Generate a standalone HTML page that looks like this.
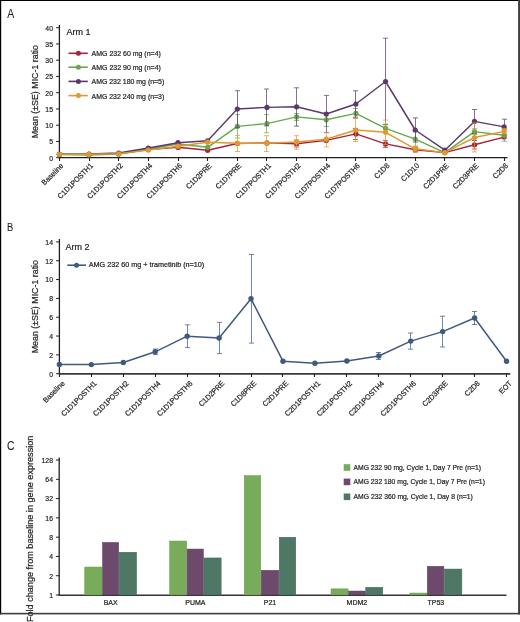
<!DOCTYPE html>
<html><head><meta charset="utf-8"><style>
html,body{margin:0;padding:0;background:#fff;width:520px;height:622px;overflow:hidden}
svg{display:block;will-change:transform}
text{font-family:"Liberation Sans", sans-serif;fill:#231f20;stroke:#231f20;stroke-width:0.22px}
</style></head><body>
<svg width="520" height="622" viewBox="0 0 520 622">
<text transform="translate(7.3,17.7) scale(0.83,1)" font-size="12.6" style="stroke-width:0.1px">A</text>
<text transform="translate(6.9,231.3) scale(0.9,1)" font-size="10.4" style="stroke-width:0.1px">B</text>
<text transform="translate(6.9,449.9) scale(0.83,1)" font-size="12.5" style="stroke-width:0.1px">C</text>
<line x1="59.4" y1="25" x2="59.4" y2="157.7" stroke="#231f20" stroke-width="1.3"/>
<line x1="58.75" y1="157.7" x2="507.5" y2="157.7" stroke="#231f20" stroke-width="1.3"/>
<line x1="56.1" y1="157.70" x2="59.4" y2="157.70" stroke="#231f20" stroke-width="1"/>
<text transform="translate(53,160.50) scale(0.87,1)" font-size="7.9" text-anchor="end">0</text>
<line x1="56.1" y1="141.45" x2="59.4" y2="141.45" stroke="#231f20" stroke-width="1"/>
<text transform="translate(53,144.25) scale(0.87,1)" font-size="7.9" text-anchor="end">5</text>
<line x1="56.1" y1="125.20" x2="59.4" y2="125.20" stroke="#231f20" stroke-width="1"/>
<text transform="translate(53,128.00) scale(0.87,1)" font-size="7.9" text-anchor="end">10</text>
<line x1="56.1" y1="108.95" x2="59.4" y2="108.95" stroke="#231f20" stroke-width="1"/>
<text transform="translate(53,111.75) scale(0.87,1)" font-size="7.9" text-anchor="end">15</text>
<line x1="56.1" y1="92.70" x2="59.4" y2="92.70" stroke="#231f20" stroke-width="1"/>
<text transform="translate(53,95.50) scale(0.87,1)" font-size="7.9" text-anchor="end">20</text>
<line x1="56.1" y1="76.45" x2="59.4" y2="76.45" stroke="#231f20" stroke-width="1"/>
<text transform="translate(53,79.25) scale(0.87,1)" font-size="7.9" text-anchor="end">25</text>
<line x1="56.1" y1="60.20" x2="59.4" y2="60.20" stroke="#231f20" stroke-width="1"/>
<text transform="translate(53,63.00) scale(0.87,1)" font-size="7.9" text-anchor="end">30</text>
<line x1="56.1" y1="43.95" x2="59.4" y2="43.95" stroke="#231f20" stroke-width="1"/>
<text transform="translate(53,46.75) scale(0.87,1)" font-size="7.9" text-anchor="end">35</text>
<line x1="56.1" y1="27.70" x2="59.4" y2="27.70" stroke="#231f20" stroke-width="1"/>
<text transform="translate(53,30.50) scale(0.87,1)" font-size="7.9" text-anchor="end">40</text>
<line x1="59.50" y1="157.7" x2="59.50" y2="161.0" stroke="#231f20" stroke-width="1.1"/>
<text transform="translate(63.90,166.29999999999998) rotate(-45) scale(0.95,1)" font-size="7.5" text-anchor="end">Baseline</text>
<line x1="89.50" y1="157.7" x2="89.50" y2="161.0" stroke="#231f20" stroke-width="1.1"/>
<text transform="translate(93.55,166.29999999999998) rotate(-45) scale(0.95,1)" font-size="7.5" text-anchor="end">C1D1POSTH1</text>
<line x1="118.50" y1="157.7" x2="118.50" y2="161.0" stroke="#231f20" stroke-width="1.1"/>
<text transform="translate(123.20,166.29999999999998) rotate(-45) scale(0.95,1)" font-size="7.5" text-anchor="end">C1D1POSTH2</text>
<line x1="148.50" y1="157.7" x2="148.50" y2="161.0" stroke="#231f20" stroke-width="1.1"/>
<text transform="translate(152.85,166.29999999999998) rotate(-45) scale(0.95,1)" font-size="7.5" text-anchor="end">C1D1POSTH4</text>
<line x1="178.50" y1="157.7" x2="178.50" y2="161.0" stroke="#231f20" stroke-width="1.1"/>
<text transform="translate(182.50,166.29999999999998) rotate(-45) scale(0.95,1)" font-size="7.5" text-anchor="end">C1D1POSTH6</text>
<line x1="207.50" y1="157.7" x2="207.50" y2="161.0" stroke="#231f20" stroke-width="1.1"/>
<text transform="translate(212.15,166.29999999999998) rotate(-45) scale(0.95,1)" font-size="7.5" text-anchor="end">C1D2PRE</text>
<line x1="237.50" y1="157.7" x2="237.50" y2="161.0" stroke="#231f20" stroke-width="1.1"/>
<text transform="translate(241.80,166.29999999999998) rotate(-45) scale(0.95,1)" font-size="7.5" text-anchor="end">C1D7PRE</text>
<line x1="266.50" y1="157.7" x2="266.50" y2="161.0" stroke="#231f20" stroke-width="1.1"/>
<text transform="translate(271.45,166.29999999999998) rotate(-45) scale(0.95,1)" font-size="7.5" text-anchor="end">C1D7POSTH1</text>
<line x1="296.50" y1="157.7" x2="296.50" y2="161.0" stroke="#231f20" stroke-width="1.1"/>
<text transform="translate(301.10,166.29999999999998) rotate(-45) scale(0.95,1)" font-size="7.5" text-anchor="end">C1D7POSTH2</text>
<line x1="326.50" y1="157.7" x2="326.50" y2="161.0" stroke="#231f20" stroke-width="1.1"/>
<text transform="translate(330.75,166.29999999999998) rotate(-45) scale(0.95,1)" font-size="7.5" text-anchor="end">C1D7POSTH4</text>
<line x1="355.50" y1="157.7" x2="355.50" y2="161.0" stroke="#231f20" stroke-width="1.1"/>
<text transform="translate(360.40,166.29999999999998) rotate(-45) scale(0.95,1)" font-size="7.5" text-anchor="end">C1D7POSTH6</text>
<line x1="385.50" y1="157.7" x2="385.50" y2="161.0" stroke="#231f20" stroke-width="1.1"/>
<text transform="translate(390.05,166.29999999999998) rotate(-45) scale(0.95,1)" font-size="7.5" text-anchor="end">C1D8</text>
<line x1="415.50" y1="157.7" x2="415.50" y2="161.0" stroke="#231f20" stroke-width="1.1"/>
<text transform="translate(419.70,166.29999999999998) rotate(-45) scale(0.95,1)" font-size="7.5" text-anchor="end">C1D10</text>
<line x1="444.50" y1="157.7" x2="444.50" y2="161.0" stroke="#231f20" stroke-width="1.1"/>
<text transform="translate(449.35,166.29999999999998) rotate(-45) scale(0.95,1)" font-size="7.5" text-anchor="end">C2D1PRE</text>
<line x1="474.50" y1="157.7" x2="474.50" y2="161.0" stroke="#231f20" stroke-width="1.1"/>
<text transform="translate(479.00,166.29999999999998) rotate(-45) scale(0.95,1)" font-size="7.5" text-anchor="end">C2D3PRE</text>
<line x1="504.50" y1="157.7" x2="504.50" y2="161.0" stroke="#231f20" stroke-width="1.1"/>
<text transform="translate(508.65,166.29999999999998) rotate(-45) scale(0.95,1)" font-size="7.5" text-anchor="end">C2D8</text>
<text transform="translate(38.1,138.3) rotate(-90)" font-size="9.4" textLength="93.3" lengthAdjust="spacingAndGlyphs">Mean (±SE) MIC-1 ratio</text>
<text x="66.5" y="34.8" font-size="9">Arm 1</text>
<line x1="68.5" y1="53.3" x2="87.8" y2="53.3" stroke="#a2263c" stroke-width="1.6"/>
<circle cx="78.4" cy="53.3" r="2.5" fill="#a2263c"/>
<text x="91.5" y="56.20" font-size="7.6" textLength="69.4" lengthAdjust="spacingAndGlyphs">AMG 232 60 mg (n=4)</text>
<line x1="68.5" y1="67.2" x2="87.8" y2="67.2" stroke="#6aa84f" stroke-width="1.6"/>
<circle cx="78.4" cy="67.2" r="2.5" fill="#6aa84f"/>
<text x="91.5" y="70.10" font-size="7.6" textLength="69.4" lengthAdjust="spacingAndGlyphs">AMG 232 90 mg (n=4)</text>
<line x1="68.5" y1="81.4" x2="87.8" y2="81.4" stroke="#5b3a6b" stroke-width="1.6"/>
<circle cx="78.4" cy="81.4" r="2.5" fill="#5b3a6b"/>
<text x="91.5" y="84.30" font-size="7.6" textLength="72.8" lengthAdjust="spacingAndGlyphs">AMG 232 180 mg (n=5)</text>
<line x1="68.5" y1="95.6" x2="87.8" y2="95.6" stroke="#e0982f" stroke-width="1.6"/>
<circle cx="78.4" cy="95.6" r="2.5" fill="#e0982f"/>
<text x="91.5" y="98.50" font-size="7.6" textLength="72.8" lengthAdjust="spacingAndGlyphs">AMG 232 240 mg (n=3)</text>
<path d="M178.50 145.5V149M175.90 145.5H181.10M175.90 149H181.10" stroke="#a2263c" stroke-width="1.0" fill="none" opacity="0.72"/>
<path d="M296.50 140V147M293.90 140H299.10M293.90 147H299.10" stroke="#a2263c" stroke-width="1.0" fill="none" opacity="0.72"/>
<path d="M355.50 128.5V139.5M352.90 128.5H358.10M352.90 139.5H358.10" stroke="#a2263c" stroke-width="1.0" fill="none" opacity="0.72"/>
<path d="M385.50 140.4V147.4M382.90 140.4H388.10M382.90 147.4H388.10" stroke="#a2263c" stroke-width="1.0" fill="none" opacity="0.72"/>
<path d="M415.50 147.5V152M412.90 147.5H418.10M412.90 152H418.10" stroke="#a2263c" stroke-width="1.0" fill="none" opacity="0.72"/>
<path d="M474.50 140.5V149M471.90 140.5H477.10M471.90 149H477.10" stroke="#a2263c" stroke-width="1.0" fill="none" opacity="0.72"/>
<polyline points="59.40,154.30 89.05,154.30 118.70,153.80 148.35,149.50 178.00,147.30 207.65,150.30 237.30,143.50 266.95,142.90 296.60,143.70 326.25,140.40 355.90,133.90 385.55,143.90 415.20,149.70 444.85,152.60 474.50,144.80 504.15,137.10" fill="none" stroke="#a2263c" stroke-width="1.45" stroke-linejoin="round"/>
<circle cx="59.40" cy="154.3" r="2.6" fill="#a2263c"/>
<circle cx="89.05" cy="154.3" r="2.6" fill="#a2263c"/>
<circle cx="118.70" cy="153.8" r="2.6" fill="#a2263c"/>
<circle cx="148.35" cy="149.5" r="2.6" fill="#a2263c"/>
<circle cx="178.00" cy="147.3" r="2.6" fill="#a2263c"/>
<circle cx="207.65" cy="150.3" r="2.6" fill="#a2263c"/>
<circle cx="237.30" cy="143.5" r="2.6" fill="#a2263c"/>
<circle cx="266.95" cy="142.9" r="2.6" fill="#a2263c"/>
<circle cx="296.60" cy="143.7" r="2.6" fill="#a2263c"/>
<circle cx="326.25" cy="140.4" r="2.6" fill="#a2263c"/>
<circle cx="355.90" cy="133.9" r="2.6" fill="#a2263c"/>
<circle cx="385.55" cy="143.9" r="2.6" fill="#a2263c"/>
<circle cx="415.20" cy="149.7" r="2.6" fill="#a2263c"/>
<circle cx="444.85" cy="152.6" r="2.6" fill="#a2263c"/>
<circle cx="474.50" cy="144.8" r="2.6" fill="#a2263c"/>
<circle cx="504.15" cy="137.1" r="2.6" fill="#a2263c"/>
<path d="M237.50 114.6V138M234.90 114.6H240.10M234.90 138H240.10" stroke="#6aa84f" stroke-width="1.0" fill="none" opacity="0.72"/>
<path d="M266.50 114.6V132.8M263.90 114.6H269.10M263.90 132.8H269.10" stroke="#6aa84f" stroke-width="1.0" fill="none" opacity="0.72"/>
<path d="M296.50 113.5V120.5M293.90 113.5H299.10M293.90 120.5H299.10" stroke="#6aa84f" stroke-width="1.0" fill="none" opacity="0.72"/>
<path d="M326.50 113V126.5M323.90 113H329.10M323.90 126.5H329.10" stroke="#6aa84f" stroke-width="1.0" fill="none" opacity="0.72"/>
<path d="M355.50 108.5V118.3M352.90 108.5H358.10M352.90 118.3H358.10" stroke="#6aa84f" stroke-width="1.0" fill="none" opacity="0.72"/>
<path d="M385.50 124.2V132.6M382.90 124.2H388.10M382.90 132.6H388.10" stroke="#6aa84f" stroke-width="1.0" fill="none" opacity="0.72"/>
<path d="M415.50 131.5V146.7M412.90 131.5H418.10M412.90 146.7H418.10" stroke="#6aa84f" stroke-width="1.0" fill="none" opacity="0.72"/>
<path d="M474.50 128.7V134.5M471.90 128.7H477.10M471.90 134.5H477.10" stroke="#6aa84f" stroke-width="1.0" fill="none" opacity="0.72"/>
<path d="M504.50 129.5V141.3M501.90 129.5H507.10M501.90 141.3H507.10" stroke="#6aa84f" stroke-width="1.0" fill="none" opacity="0.72"/>
<polyline points="59.40,154.50 89.05,155.00 118.70,154.00 148.35,149.00 178.00,144.00 207.65,147.30 237.30,126.40 266.95,123.60 296.60,116.90 326.25,119.80 355.90,113.40 385.55,128.40 415.20,139.10 444.85,152.60 474.50,131.60 504.15,135.30" fill="none" stroke="#6aa84f" stroke-width="1.45" stroke-linejoin="round"/>
<circle cx="59.40" cy="154.5" r="2.6" fill="#6aa84f"/>
<circle cx="89.05" cy="155" r="2.6" fill="#6aa84f"/>
<circle cx="118.70" cy="154" r="2.6" fill="#6aa84f"/>
<circle cx="148.35" cy="149" r="2.6" fill="#6aa84f"/>
<circle cx="178.00" cy="144" r="2.6" fill="#6aa84f"/>
<circle cx="207.65" cy="147.3" r="2.6" fill="#6aa84f"/>
<circle cx="237.30" cy="126.4" r="2.6" fill="#6aa84f"/>
<circle cx="266.95" cy="123.6" r="2.6" fill="#6aa84f"/>
<circle cx="296.60" cy="116.9" r="2.6" fill="#6aa84f"/>
<circle cx="326.25" cy="119.8" r="2.6" fill="#6aa84f"/>
<circle cx="355.90" cy="113.4" r="2.6" fill="#6aa84f"/>
<circle cx="385.55" cy="128.4" r="2.6" fill="#6aa84f"/>
<circle cx="415.20" cy="139.1" r="2.6" fill="#6aa84f"/>
<circle cx="444.85" cy="152.6" r="2.6" fill="#6aa84f"/>
<circle cx="474.50" cy="131.6" r="2.6" fill="#6aa84f"/>
<circle cx="504.15" cy="135.3" r="2.6" fill="#6aa84f"/>
<path d="M237.50 90.7V127.3M234.90 90.7H240.10M234.90 127.3H240.10" stroke="#5b3a6b" stroke-width="1.0" fill="none" opacity="0.72"/>
<path d="M266.50 89V125.8M263.90 89H269.10M263.90 125.8H269.10" stroke="#5b3a6b" stroke-width="1.0" fill="none" opacity="0.72"/>
<path d="M296.50 87.8V126.2M293.90 87.8H299.10M293.90 126.2H299.10" stroke="#5b3a6b" stroke-width="1.0" fill="none" opacity="0.72"/>
<path d="M326.50 95.4V132.6M323.90 95.4H329.10M323.90 132.6H329.10" stroke="#5b3a6b" stroke-width="1.0" fill="none" opacity="0.72"/>
<path d="M355.50 90.8V117.2M352.90 90.8H358.10M352.90 117.2H358.10" stroke="#5b3a6b" stroke-width="1.0" fill="none" opacity="0.72"/>
<path d="M385.50 38.2V124.8M382.90 38.2H388.10M382.90 124.8H388.10" stroke="#5b3a6b" stroke-width="1.0" fill="none" opacity="0.72"/>
<path d="M415.50 117.9V142.1M412.90 117.9H418.10M412.90 142.1H418.10" stroke="#5b3a6b" stroke-width="1.0" fill="none" opacity="0.72"/>
<path d="M474.50 109.5V133.3M471.90 109.5H477.10M471.90 133.3H477.10" stroke="#5b3a6b" stroke-width="1.0" fill="none" opacity="0.72"/>
<path d="M504.50 119.2V134.6M501.90 119.2H507.10M501.90 134.6H507.10" stroke="#5b3a6b" stroke-width="1.0" fill="none" opacity="0.72"/>
<polyline points="59.40,154.30 89.05,154.00 118.70,153.00 148.35,148.00 178.00,142.70 207.65,140.80 237.30,109.00 266.95,107.40 296.60,106.80 326.25,114.00 355.90,104.00 385.55,81.50 415.20,130.00 444.85,150.20 474.50,121.40 504.15,126.90" fill="none" stroke="#5b3a6b" stroke-width="1.45" stroke-linejoin="round"/>
<circle cx="59.40" cy="154.3" r="2.6" fill="#5b3a6b"/>
<circle cx="89.05" cy="154" r="2.6" fill="#5b3a6b"/>
<circle cx="118.70" cy="153" r="2.6" fill="#5b3a6b"/>
<circle cx="148.35" cy="148" r="2.6" fill="#5b3a6b"/>
<circle cx="178.00" cy="142.7" r="2.6" fill="#5b3a6b"/>
<circle cx="207.65" cy="140.8" r="2.6" fill="#5b3a6b"/>
<circle cx="237.30" cy="109" r="2.6" fill="#5b3a6b"/>
<circle cx="266.95" cy="107.4" r="2.6" fill="#5b3a6b"/>
<circle cx="296.60" cy="106.8" r="2.6" fill="#5b3a6b"/>
<circle cx="326.25" cy="114" r="2.6" fill="#5b3a6b"/>
<circle cx="355.90" cy="104" r="2.6" fill="#5b3a6b"/>
<circle cx="385.55" cy="81.5" r="2.6" fill="#5b3a6b"/>
<circle cx="415.20" cy="130" r="2.6" fill="#5b3a6b"/>
<circle cx="444.85" cy="150.2" r="2.6" fill="#5b3a6b"/>
<circle cx="474.50" cy="121.4" r="2.6" fill="#5b3a6b"/>
<circle cx="504.15" cy="126.9" r="2.6" fill="#5b3a6b"/>
<path d="M237.50 135.4V151.5M234.90 135.4H240.10M234.90 151.5H240.10" stroke="#e0982f" stroke-width="1.0" fill="none" opacity="0.72"/>
<path d="M266.50 135.7V151.5M263.90 135.7H269.10M263.90 151.5H269.10" stroke="#e0982f" stroke-width="1.0" fill="none" opacity="0.72"/>
<path d="M296.50 135.7V149.2M293.90 135.7H299.10M293.90 149.2H299.10" stroke="#e0982f" stroke-width="1.0" fill="none" opacity="0.72"/>
<path d="M326.50 132.3V146.9M323.90 132.3H329.10M323.90 146.9H329.10" stroke="#e0982f" stroke-width="1.0" fill="none" opacity="0.72"/>
<path d="M355.50 118.5V141.5M352.90 118.5H358.10M352.90 141.5H358.10" stroke="#e0982f" stroke-width="1.0" fill="none" opacity="0.72"/>
<path d="M385.50 120.1V144.5M382.90 120.1H388.10M382.90 144.5H388.10" stroke="#e0982f" stroke-width="1.0" fill="none" opacity="0.72"/>
<path d="M415.50 146V151.6M412.90 146H418.10M412.90 151.6H418.10" stroke="#e0982f" stroke-width="1.0" fill="none" opacity="0.72"/>
<path d="M474.50 123V151.9M471.90 123H477.10M471.90 151.9H477.10" stroke="#e0982f" stroke-width="1.0" fill="none" opacity="0.72"/>
<path d="M504.50 128.5V134.3M501.90 128.5H507.10M501.90 134.3H507.10" stroke="#e0982f" stroke-width="1.0" fill="none" opacity="0.72"/>
<polyline points="59.40,154.30 89.05,154.30 118.70,153.80 148.35,150.10 178.00,146.20 207.65,142.20 237.30,143.20 266.95,143.30 296.60,142.00 326.25,139.20 355.90,130.00 385.55,132.30 415.20,148.80 444.85,152.60 474.50,137.50 504.15,131.40" fill="none" stroke="#e0982f" stroke-width="1.45" stroke-linejoin="round"/>
<circle cx="59.40" cy="154.3" r="2.6" fill="#e0982f"/>
<circle cx="89.05" cy="154.3" r="2.6" fill="#e0982f"/>
<circle cx="118.70" cy="153.8" r="2.6" fill="#e0982f"/>
<circle cx="148.35" cy="150.1" r="2.6" fill="#e0982f"/>
<circle cx="178.00" cy="146.2" r="2.6" fill="#e0982f"/>
<circle cx="207.65" cy="142.2" r="2.6" fill="#e0982f"/>
<circle cx="237.30" cy="143.2" r="2.6" fill="#e0982f"/>
<circle cx="266.95" cy="143.3" r="2.6" fill="#e0982f"/>
<circle cx="296.60" cy="142" r="2.6" fill="#e0982f"/>
<circle cx="326.25" cy="139.2" r="2.6" fill="#e0982f"/>
<circle cx="355.90" cy="130" r="2.6" fill="#e0982f"/>
<circle cx="385.55" cy="132.3" r="2.6" fill="#e0982f"/>
<circle cx="415.20" cy="148.8" r="2.6" fill="#e0982f"/>
<circle cx="444.85" cy="152.6" r="2.6" fill="#e0982f"/>
<circle cx="474.50" cy="137.5" r="2.6" fill="#e0982f"/>
<circle cx="504.15" cy="131.4" r="2.6" fill="#e0982f"/>
<line x1="59.4" y1="239" x2="59.4" y2="373.7" stroke="#231f20" stroke-width="1.3"/>
<line x1="58.75" y1="373.9" x2="510.3" y2="373.9" stroke="#3a3a3a" stroke-width="1.6"/>
<line x1="56.1" y1="373.70" x2="59.4" y2="373.70" stroke="#231f20" stroke-width="1"/>
<text transform="translate(53,376.50) scale(0.87,1)" font-size="7.9" text-anchor="end">0</text>
<line x1="56.1" y1="354.87" x2="59.4" y2="354.87" stroke="#231f20" stroke-width="1"/>
<text transform="translate(53,357.67) scale(0.87,1)" font-size="7.9" text-anchor="end">2</text>
<line x1="56.1" y1="336.04" x2="59.4" y2="336.04" stroke="#231f20" stroke-width="1"/>
<text transform="translate(53,338.84) scale(0.87,1)" font-size="7.9" text-anchor="end">4</text>
<line x1="56.1" y1="317.22" x2="59.4" y2="317.22" stroke="#231f20" stroke-width="1"/>
<text transform="translate(53,320.02) scale(0.87,1)" font-size="7.9" text-anchor="end">6</text>
<line x1="56.1" y1="298.39" x2="59.4" y2="298.39" stroke="#231f20" stroke-width="1"/>
<text transform="translate(53,301.19) scale(0.87,1)" font-size="7.9" text-anchor="end">8</text>
<line x1="56.1" y1="279.56" x2="59.4" y2="279.56" stroke="#231f20" stroke-width="1"/>
<text transform="translate(53,282.36) scale(0.87,1)" font-size="7.9" text-anchor="end">10</text>
<line x1="56.1" y1="260.73" x2="59.4" y2="260.73" stroke="#231f20" stroke-width="1"/>
<text transform="translate(53,263.53) scale(0.87,1)" font-size="7.9" text-anchor="end">12</text>
<line x1="56.1" y1="241.90" x2="59.4" y2="241.90" stroke="#231f20" stroke-width="1"/>
<text transform="translate(53,244.70) scale(0.87,1)" font-size="7.9" text-anchor="end">14</text>
<line x1="59.50" y1="373.7" x2="59.50" y2="377.0" stroke="#231f20" stroke-width="1.1"/>
<text transform="translate(65.20,383.9) rotate(-45) scale(0.95,1)" font-size="7.5" text-anchor="end">Baseline</text>
<line x1="91.50" y1="373.7" x2="91.50" y2="377.0" stroke="#231f20" stroke-width="1.1"/>
<text transform="translate(97.14,383.9) rotate(-45) scale(0.95,1)" font-size="7.5" text-anchor="end">C1D1POSTH1</text>
<line x1="123.50" y1="373.7" x2="123.50" y2="377.0" stroke="#231f20" stroke-width="1.1"/>
<text transform="translate(129.08,383.9) rotate(-45) scale(0.95,1)" font-size="7.5" text-anchor="end">C1D1POSTH2</text>
<line x1="155.50" y1="373.7" x2="155.50" y2="377.0" stroke="#231f20" stroke-width="1.1"/>
<text transform="translate(161.02,383.9) rotate(-45) scale(0.95,1)" font-size="7.5" text-anchor="end">C1D1POSTH4</text>
<line x1="187.50" y1="373.7" x2="187.50" y2="377.0" stroke="#231f20" stroke-width="1.1"/>
<text transform="translate(192.96,383.9) rotate(-45) scale(0.95,1)" font-size="7.5" text-anchor="end">C1D1POSTH6</text>
<line x1="219.50" y1="373.7" x2="219.50" y2="377.0" stroke="#231f20" stroke-width="1.1"/>
<text transform="translate(224.90,383.9) rotate(-45) scale(0.95,1)" font-size="7.5" text-anchor="end">C1D2PRE</text>
<line x1="251.50" y1="373.7" x2="251.50" y2="377.0" stroke="#231f20" stroke-width="1.1"/>
<text transform="translate(256.84,383.9) rotate(-45) scale(0.95,1)" font-size="7.5" text-anchor="end">C1D8PRE</text>
<line x1="282.50" y1="373.7" x2="282.50" y2="377.0" stroke="#231f20" stroke-width="1.1"/>
<text transform="translate(288.78,383.9) rotate(-45) scale(0.95,1)" font-size="7.5" text-anchor="end">C2D1PRE</text>
<line x1="314.50" y1="373.7" x2="314.50" y2="377.0" stroke="#231f20" stroke-width="1.1"/>
<text transform="translate(320.72,383.9) rotate(-45) scale(0.95,1)" font-size="7.5" text-anchor="end">C2D1POSTH1</text>
<line x1="346.50" y1="373.7" x2="346.50" y2="377.0" stroke="#231f20" stroke-width="1.1"/>
<text transform="translate(352.66,383.9) rotate(-45) scale(0.95,1)" font-size="7.5" text-anchor="end">C2D1POSTH2</text>
<line x1="378.50" y1="373.7" x2="378.50" y2="377.0" stroke="#231f20" stroke-width="1.1"/>
<text transform="translate(384.60,383.9) rotate(-45) scale(0.95,1)" font-size="7.5" text-anchor="end">C2D1POSTH4</text>
<line x1="410.50" y1="373.7" x2="410.50" y2="377.0" stroke="#231f20" stroke-width="1.1"/>
<text transform="translate(416.54,383.9) rotate(-45) scale(0.95,1)" font-size="7.5" text-anchor="end">C2D1POSTH6</text>
<line x1="442.50" y1="373.7" x2="442.50" y2="377.0" stroke="#231f20" stroke-width="1.1"/>
<text transform="translate(448.48,383.9) rotate(-45) scale(0.95,1)" font-size="7.5" text-anchor="end">C2D3PRE</text>
<line x1="474.50" y1="373.7" x2="474.50" y2="377.0" stroke="#231f20" stroke-width="1.1"/>
<text transform="translate(480.42,383.9) rotate(-45) scale(0.95,1)" font-size="7.5" text-anchor="end">C2D8</text>
<line x1="506.50" y1="373.7" x2="506.50" y2="377.0" stroke="#231f20" stroke-width="1.1"/>
<text transform="translate(512.36,383.9) rotate(-45) scale(0.95,1)" font-size="7.5" text-anchor="end">EOT</text>
<text transform="translate(38.1,353.3) rotate(-90)" font-size="9.4" textLength="93.3" lengthAdjust="spacingAndGlyphs">Mean (±SE) MIC-1 ratio</text>
<text x="65.4" y="249.8" font-size="9">Arm 2</text>
<line x1="67.3" y1="265.2" x2="86" y2="265.2" stroke="#3f5a80" stroke-width="1.6"/>
<circle cx="76.5" cy="265.2" r="2.5" fill="#3f5a80"/>
<text x="88.8" y="266.9" font-size="7.2" textLength="115.4" lengthAdjust="spacingAndGlyphs">AMG 232 60 mg + trametinib (n=10)</text>
<path d="M155.50 349V354.6M152.90 349H158.10M152.90 354.6H158.10" stroke="#3f5a80" stroke-width="1.0" fill="none" opacity="0.72"/>
<path d="M187.50 324.8V347.6M184.90 324.8H190.10M184.90 347.6H190.10" stroke="#3f5a80" stroke-width="1.0" fill="none" opacity="0.72"/>
<path d="M219.50 322.4V353.6M216.90 322.4H222.10M216.90 353.6H222.10" stroke="#3f5a80" stroke-width="1.0" fill="none" opacity="0.72"/>
<path d="M251.50 254.5V343.1M248.90 254.5H254.10M248.90 343.1H254.10" stroke="#3f5a80" stroke-width="1.0" fill="none" opacity="0.72"/>
<path d="M378.50 352.5V359.5M375.90 352.5H381.10M375.90 359.5H381.10" stroke="#3f5a80" stroke-width="1.0" fill="none" opacity="0.72"/>
<path d="M410.50 333V349.2M407.90 333H413.10M407.90 349.2H413.10" stroke="#3f5a80" stroke-width="1.0" fill="none" opacity="0.72"/>
<path d="M442.50 316.2V347M439.90 316.2H445.10M439.90 347H445.10" stroke="#3f5a80" stroke-width="1.0" fill="none" opacity="0.72"/>
<path d="M474.50 311.5V324.5M471.90 311.5H477.10M471.90 324.5H477.10" stroke="#3f5a80" stroke-width="1.0" fill="none" opacity="0.72"/>
<polyline points="59.40,364.40 91.34,364.60 123.28,362.50 155.22,351.80 187.16,336.20 219.10,338.00 251.04,298.80 282.98,361.20 314.92,363.20 346.86,361.00 378.80,356.00 410.74,341.10 442.68,331.60 474.62,318.00 506.56,361.20" fill="none" stroke="#3f5a80" stroke-width="1.5" stroke-linejoin="round"/>
<circle cx="59.40" cy="364.4" r="2.7" fill="#3f5a80"/>
<circle cx="91.34" cy="364.6" r="2.7" fill="#3f5a80"/>
<circle cx="123.28" cy="362.5" r="2.7" fill="#3f5a80"/>
<circle cx="155.22" cy="351.8" r="2.7" fill="#3f5a80"/>
<circle cx="187.16" cy="336.2" r="2.7" fill="#3f5a80"/>
<circle cx="219.10" cy="338" r="2.7" fill="#3f5a80"/>
<circle cx="251.04" cy="298.8" r="2.7" fill="#3f5a80"/>
<circle cx="282.98" cy="361.2" r="2.7" fill="#3f5a80"/>
<circle cx="314.92" cy="363.2" r="2.7" fill="#3f5a80"/>
<circle cx="346.86" cy="361" r="2.7" fill="#3f5a80"/>
<circle cx="378.80" cy="356" r="2.7" fill="#3f5a80"/>
<circle cx="410.74" cy="341.1" r="2.7" fill="#3f5a80"/>
<circle cx="442.68" cy="331.6" r="2.7" fill="#3f5a80"/>
<circle cx="474.62" cy="318" r="2.7" fill="#3f5a80"/>
<circle cx="506.56" cy="361.2" r="2.7" fill="#3f5a80"/>
<line x1="59.2" y1="457.5" x2="59.2" y2="595.0" stroke="#231f20" stroke-width="1.3"/>
<line x1="58.550000000000004" y1="595.2" x2="506.5" y2="595.2" stroke="#333" stroke-width="1.6"/>
<line x1="55.900000000000006" y1="595.00" x2="59.2" y2="595.00" stroke="#231f20" stroke-width="1"/>
<text transform="translate(53,597.80) scale(0.87,1)" font-size="7.9" text-anchor="end">1</text>
<line x1="55.900000000000006" y1="575.72" x2="59.2" y2="575.72" stroke="#231f20" stroke-width="1"/>
<text transform="translate(53,578.52) scale(0.87,1)" font-size="7.9" text-anchor="end">2</text>
<line x1="55.900000000000006" y1="556.44" x2="59.2" y2="556.44" stroke="#231f20" stroke-width="1"/>
<text transform="translate(53,559.24) scale(0.87,1)" font-size="7.9" text-anchor="end">4</text>
<line x1="55.900000000000006" y1="537.16" x2="59.2" y2="537.16" stroke="#231f20" stroke-width="1"/>
<text transform="translate(53,539.96) scale(0.87,1)" font-size="7.9" text-anchor="end">8</text>
<line x1="55.900000000000006" y1="517.88" x2="59.2" y2="517.88" stroke="#231f20" stroke-width="1"/>
<text transform="translate(53,520.68) scale(0.87,1)" font-size="7.9" text-anchor="end">16</text>
<line x1="55.900000000000006" y1="498.60" x2="59.2" y2="498.60" stroke="#231f20" stroke-width="1"/>
<text transform="translate(53,501.40) scale(0.87,1)" font-size="7.9" text-anchor="end">32</text>
<line x1="55.900000000000006" y1="479.32" x2="59.2" y2="479.32" stroke="#231f20" stroke-width="1"/>
<text transform="translate(53,482.12) scale(0.87,1)" font-size="7.9" text-anchor="end">64</text>
<line x1="55.900000000000006" y1="460.04" x2="59.2" y2="460.04" stroke="#231f20" stroke-width="1"/>
<text transform="translate(53,462.84) scale(0.87,1)" font-size="7.9" text-anchor="end">128</text>
<text transform="translate(32.8,622.1) rotate(-90)" font-size="9.2" textLength="186.5" lengthAdjust="spacingAndGlyphs">Fold change from baseline in gene expression</text>
<rect x="84.75" y="567.05" width="17.30" height="27.95" fill="#78ab5a" stroke="#649a48" stroke-width="0.5"/>
<rect x="102.55" y="542.45" width="16.10" height="52.55" fill="#6d496c" stroke="#5a3858" stroke-width="0.5"/>
<rect x="119.15" y="552.25" width="17.40" height="42.75" fill="#4e7765" stroke="#3f6652" stroke-width="0.5"/>
<text x="110.65" y="605.2" font-size="7" text-anchor="middle">BAX</text>
<rect x="169.65" y="541.05" width="17.00" height="53.95" fill="#78ab5a" stroke="#649a48" stroke-width="0.5"/>
<rect x="187.15" y="549.05" width="16.20" height="45.95" fill="#6d496c" stroke="#5a3858" stroke-width="0.5"/>
<rect x="203.85" y="557.95" width="17.30" height="37.05" fill="#4e7765" stroke="#3f6652" stroke-width="0.5"/>
<text x="195.40" y="605.2" font-size="7" text-anchor="middle">PUMA</text>
<rect x="244.25" y="475.65" width="16.50" height="119.35" fill="#78ab5a" stroke="#649a48" stroke-width="0.5"/>
<rect x="261.25" y="570.35" width="17.50" height="24.65" fill="#6d496c" stroke="#5a3858" stroke-width="0.5"/>
<rect x="279.25" y="537.25" width="16.50" height="57.75" fill="#4e7765" stroke="#3f6652" stroke-width="0.5"/>
<text x="270.00" y="605.2" font-size="7" text-anchor="middle">P21</text>
<rect x="331.05" y="588.85" width="17.00" height="6.15" fill="#78ab5a" stroke="#649a48" stroke-width="0.5"/>
<rect x="348.55" y="591.05" width="16.70" height="3.95" fill="#6d496c" stroke="#5a3858" stroke-width="0.5"/>
<rect x="365.75" y="587.35" width="17.00" height="7.65" fill="#4e7765" stroke="#3f6652" stroke-width="0.5"/>
<text x="356.90" y="605.2" font-size="7" text-anchor="middle">MDM2</text>
<rect x="409.85" y="593.05" width="17.00" height="1.95" fill="#78ab5a" stroke="#649a48" stroke-width="0.5"/>
<rect x="427.35" y="566.35" width="16.50" height="28.65" fill="#6d496c" stroke="#5a3858" stroke-width="0.5"/>
<rect x="444.35" y="569.05" width="17.50" height="25.95" fill="#4e7765" stroke="#3f6652" stroke-width="0.5"/>
<text x="435.85" y="605.2" font-size="7" text-anchor="middle">TP53</text>
<rect x="343.7" y="464.2" width="6.6" height="6.6" fill="#78ab5a"/>
<text x="353.5" y="470.00" font-size="7.2" textLength="127.5" lengthAdjust="spacingAndGlyphs">AMG 232 90 mg, Cycle 1, Day 7 Pre (n=1)</text>
<rect x="343.7" y="478.6" width="6.6" height="6.6" fill="#6d496c"/>
<text x="353.5" y="484.40" font-size="7.2" textLength="131.4" lengthAdjust="spacingAndGlyphs">AMG 232 180 mg, Cycle 1, Day 7 Pre (n=1)</text>
<rect x="343.7" y="493.5" width="6.6" height="6.6" fill="#4e7765"/>
<text x="353.5" y="499.30" font-size="7.2" textLength="119.4" lengthAdjust="spacingAndGlyphs">AMG 232 360 mg, Cycle 1, Day 8 (n=1)</text>
<rect x="0" y="0" width="520" height="1" fill="#000"/>
<rect x="0" y="0" width="1.2" height="614.5" fill="#000"/>
<rect x="518.1" y="0" width="1.9" height="614.5" fill="#3d3d3d"/>
<rect x="0" y="612.8" width="520" height="1.6" fill="#3d3d3d"/>
</svg>
</body></html>
